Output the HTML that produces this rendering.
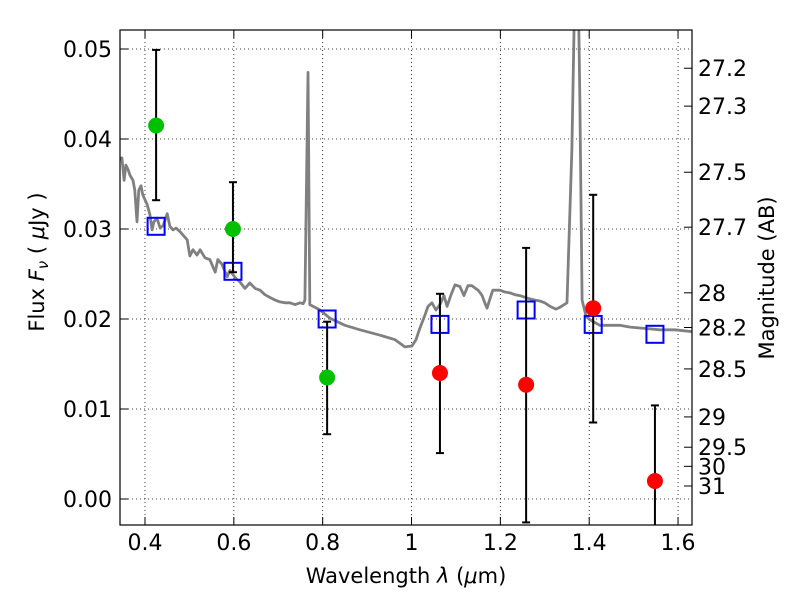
<!DOCTYPE html>
<html><head><meta charset="utf-8"><style>
body{margin:0;background:#fff;font-family:"Liberation Sans","DejaVu Sans",sans-serif}
svg text{font-family:"DejaVu Sans","Liberation Sans",sans-serif;font-size:22px;fill:#000}
</style></head><body>
<svg id="chart" width="800" height="600" xmlns="http://www.w3.org/2000/svg">
<defs><clipPath id="clip"><rect x="120" y="30" width="572" height="495"/></clipPath></defs>
<rect x="0" y="0" width="800" height="600" fill="#fff"/>
<g id="grid"></g>
<g id="marks" clip-path="url(#clip)"></g>
<rect x="120" y="30" width="572" height="495" fill="none" stroke="#000" stroke-width="1.2"/>
<g id="axes"></g>
<text x="406" y="583" text-anchor="middle" style="font-size:21px">Wavelength  <tspan font-style="italic">λ</tspan> (<tspan font-style="italic">μ</tspan>m)</text>
<text transform="translate(44,262) rotate(-90)" text-anchor="middle" style="font-size:21px">Flux  <tspan font-style="italic">F<tspan font-size="15" dy="4">ν</tspan></tspan><tspan dy="-4">  (  <tspan font-style="italic">μ</tspan>Jy )</tspan></text>
<text transform="translate(774,278) rotate(-90)" text-anchor="middle" style="font-size:21px">Magnitude (AB)</text>
</svg>
<script>
const specWave=[0.344,0.348,0.353,0.357,0.362,0.366,0.373,0.377,0.382,0.386,0.391,0.395,0.405,0.411,0.416,0.420,0.427,0.434,0.441,0.450,0.456,0.463,0.470,0.479,0.486,0.495,0.501,0.508,0.517,0.524,0.535,0.546,0.558,0.564,0.573,0.585,0.591,0.603,0.614,0.625,0.636,0.648,0.659,0.670,0.681,0.693,0.704,0.715,0.726,0.738,0.749,0.756,0.760,0.767,0.771,0.794,0.816,0.850,0.884,0.929,0.963,0.985,1.001,1.010,1.019,1.030,1.037,1.046,1.055,1.064,1.073,1.080,1.089,1.098,1.109,1.118,1.127,1.136,1.150,1.159,1.165,1.170,1.177,1.183,1.199,1.210,1.222,1.233,1.244,1.262,1.278,1.289,1.300,1.312,1.325,1.334,1.350,1.361,1.368,1.375,1.379,1.384,1.393,1.402,1.424,1.447,1.469,1.492,1.514,1.537,1.559,1.593,1.631];
const specFlux=[.0377,.0379,.0354,.0371,.0366,.0360,.0354,.0343,.0308,.0343,.0348,.0338,.0327,.0316,.0299,.0308,.0312,.0301,.0304,.0317,.0303,.0299,.0301,.0297,.0293,.0288,.0270,.0277,.0271,.0277,.0268,.0266,.0252,.0266,.0261,.0247,.0254,.0246,.0241,.0234,.0240,.0234,.0232,.0227,.0224,.0221,.0219,.0218,.0218,.0216,.0218,.0217,.0221,.0474,.0216,.0210,.0201,.0193,.0188,.0182,.0177,.0169,.0170,.0177,.0190,.0204,.0214,.0218,.0210,.0216,.0226,.0214,.0227,.0238,.0236,.0226,.0237,.0237,.0232,.0226,.0218,.0212,.0223,.0232,.0232,.0230,.0229,.0227,.0226,.0223,.0221,.0220,.0218,.0214,.0211,.0213,.0218,.0388,.058,.058,.0443,.0221,.0203,.0199,.0193,.0193,.0193,.0191,.0190,.0189,.0188,.0188,.0186];
const greenWave=[0.425,0.598,0.810];
const greenFlux=[0.0415,0.0300,0.0135];
const greenHi=[0.0499,0.0352,0.0197];
const greenLo=[0.0332,0.0252,0.0072];
const redWave=[1.064,1.258,1.409,1.548];
const redFlux=[0.0140,0.0127,0.0212,0.0020];
const redHi=[0.0228,0.0279,0.0338,0.0104];
const redLo=[0.0051,-0.0026,0.0085,-0.01];
const modelWave=[0.425,0.598,0.810,1.064,1.258,1.409,1.548];
const modelFlux=[0.0303,0.0253,0.0200,0.0194,0.0210,0.0194,0.0183];
const xTicks=[0.4,0.6,0.8,1.0,1.2,1.4,1.6];
const xTickLabels=["0.4","0.6","0.8","1","1.2","1.4","1.6"];
const yTicks=[0,0.01,0.02,0.03,0.04,0.05];
const yTickLabels=["0.00","0.01","0.02","0.03","0.04","0.05"];
const magTicks=[27.2,27.3,27.5,27.7,28,28.2,28.5,29,29.5,30,31];

const NS="http://www.w3.org/2000/svg";
const X=v=>145+(v-0.4)*444.2;
const Y=v=>499-v*9000;
const magY=m=>Y(Math.pow(10,(23.9-m)/2.5));
function mk(tag,attrs,parent){const e=document.createElementNS(NS,tag);for(const k in attrs)e.setAttribute(k,attrs[k]);parent.appendChild(e);return e;}
const grid=document.getElementById('grid'),marks=document.getElementById('marks'),axes=document.getElementById('axes');

xTicks.forEach((t,i)=>{
  const gl=mk('line',{x1:X(t),x2:X(t),y1:30,y2:525,stroke:'#000','stroke-width':0.8,'stroke-dasharray':'1,3'},grid);
  
  
  mk('line',{x1:X(t),x2:X(t),y1:525,y2:517,stroke:'#000'},axes);
  mk('line',{x1:X(t),x2:X(t),y1:30,y2:38,stroke:'#000'},axes);
  const tx=mk('text',{x:X(t),y:550,'text-anchor':'middle'},axes);
  tx.textContent=xTickLabels[i];
  
  
});
yTicks.forEach((t,i)=>{
  const gl=mk('line',{x1:120,x2:692,y1:Y(t),y2:Y(t),stroke:'#000','stroke-width':0.8,'stroke-dasharray':'1,3'},grid);
  
  
  mk('line',{x1:120,x2:128,y1:Y(t),y2:Y(t),stroke:'#000'},axes);
  const tx=mk('text',{x:112,y:Y(t)+8,'text-anchor':'end'},axes);
  tx.textContent=yTickLabels[i];
  
  
});
magTicks.forEach(m=>{
  const y=magY(m);
  mk('line',{x1:684,x2:692,y1:y,y2:y,stroke:'#000'},axes);
  const tx=mk('text',{x:698,y:y+8},axes);
  tx.textContent=String(m);
  
  
});

const sp=mk('polyline',{points:specWave.map((w,i)=>X(w)+','+Y(specFlux[i])).join(' '),fill:'none',stroke:'#808080','stroke-width':2.8,'stroke-linejoin':'round'},marks);



function errbar(w,lo,hi){
  const g=mk('g',{stroke:'#000','stroke-width':2},marks);
  
  
  mk('line',{x1:X(w),x2:X(w),y1:Y(lo),y2:Y(hi)},g);
  mk('line',{x1:X(w)-4,x2:X(w)+4,y1:Y(lo),y2:Y(lo)},g);
  mk('line',{x1:X(w)-4,x2:X(w)+4,y1:Y(hi),y2:Y(hi)},g);
}
modelWave.forEach((w,i)=>{
  const r=mk('rect',{x:X(w)-8.5,y:Y(modelFlux[i])-8.5,width:17,height:17,fill:'none',stroke:'#0000ff','stroke-width':2},marks);
  
  
});
greenWave.forEach((w,i)=>{
  errbar(w,greenLo[i],greenHi[i]);
  const c=mk('circle',{cx:X(w),cy:Y(greenFlux[i]),r:8,fill:'#00c000'},marks);
  
  
});
redWave.forEach((w,i)=>{
  errbar(w,redLo[i],redHi[i]);
  const c=mk('circle',{cx:X(w),cy:Y(redFlux[i]),r:8,fill:'#ff0000'},marks);
  
  
});
</script>
</body></html>
